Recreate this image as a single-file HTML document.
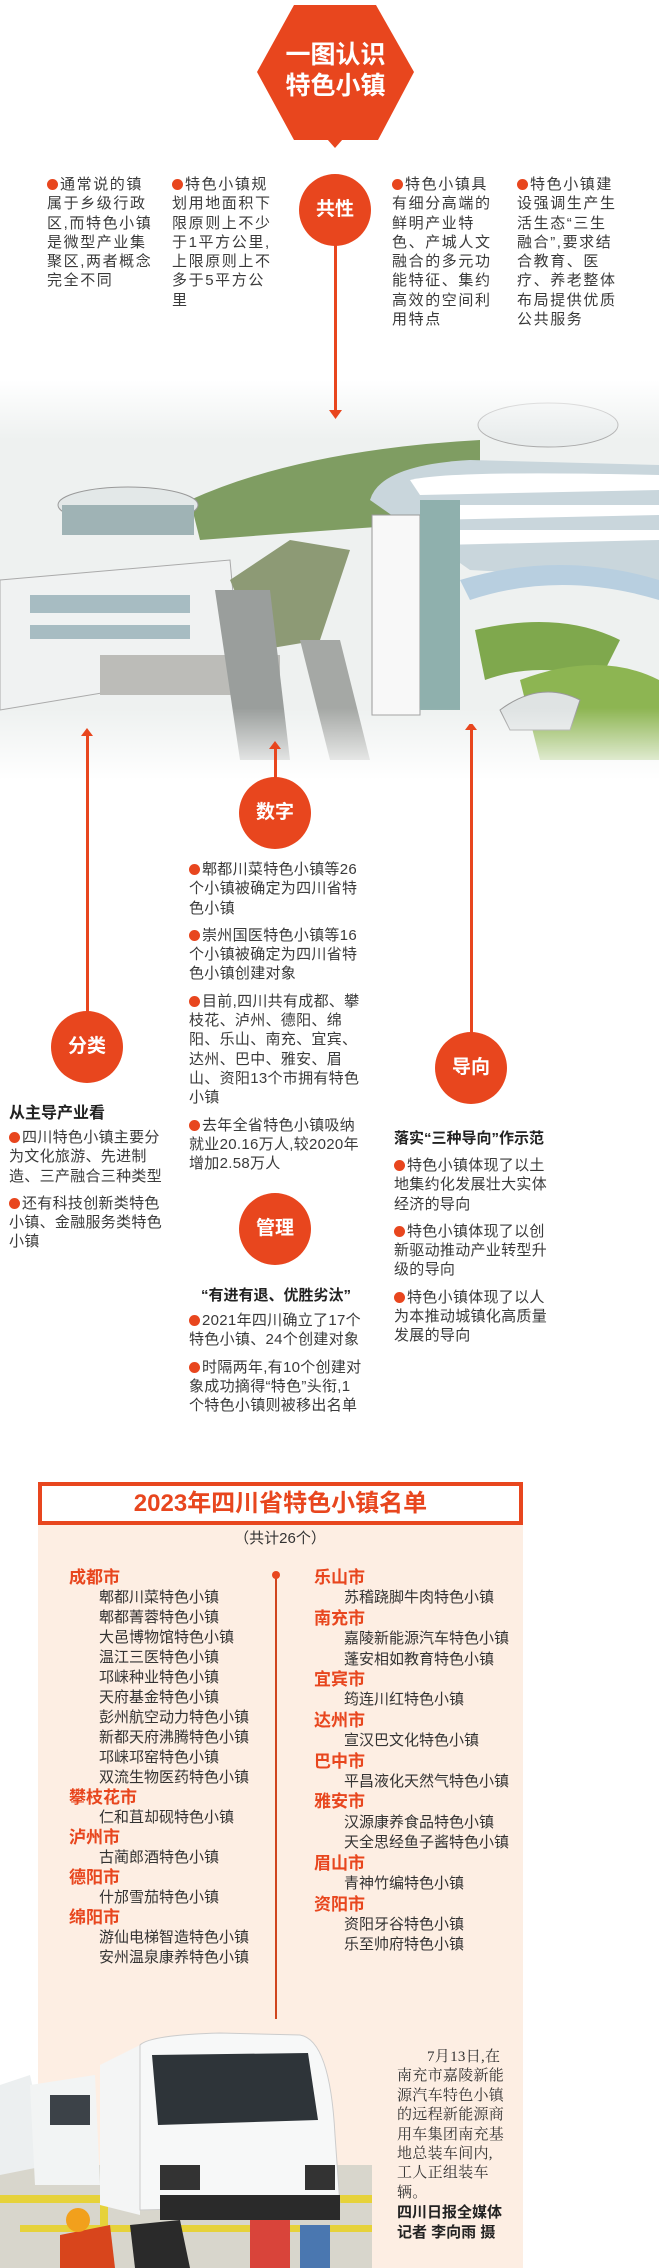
<!DOCTYPE html>
<html><head><meta charset="utf-8">
<style>
*{margin:0;padding:0;box-sizing:border-box}
body{width:659px;height:2268px;position:relative;background:#fff;font-family:"Liberation Sans","Noto Sans CJK SC",sans-serif;color:#333;overflow:hidden}
.a{position:absolute}
.t{position:absolute;font-size:15px;line-height:19.3px;letter-spacing:0.3px;color:#3a3a3a}
.t.w{letter-spacing:1.6px}
.t p{margin-bottom:8px}
.b{display:inline-block;width:11px;height:11px;border-radius:50%;background:#e8461e;margin-right:2px;vertical-align:-1px}
.c{position:absolute;width:72px;height:72px;border-radius:50%;background:#e8461e;color:#fff;font-size:19px;font-weight:bold;text-align:center;line-height:72px}
.v{position:absolute;width:3px;background:#e8461e}
.h{font-weight:bold;font-size:16px;color:#222}
.lst{position:absolute;font-size:15px;line-height:20px;color:#333}
.lst .ct{color:#e8461e;font-weight:bold;font-size:17px}
.lst .it{padding-left:30px}
</style></head><body>

<svg class="a" style="left:0;top:380px" width="659" height="400">
<defs>
<linearGradient id="fd" x1="0" y1="0" x2="0" y2="1">
<stop offset="0" stop-color="#fff" stop-opacity="1"/>
<stop offset="0.15" stop-color="#fff" stop-opacity="0"/>
<stop offset="0.82" stop-color="#fff" stop-opacity="0"/>
<stop offset="1" stop-color="#fff" stop-opacity="1"/>
</linearGradient>
</defs>
<rect width="659" height="400" fill="#eef1f0"/>
<path d="M190 120 Q300 70 480 60 L480 140 Q330 150 200 160Z" fill="#7f9d62"/>
<ellipse cx="128" cy="125" rx="70" ry="18" fill="#e3e8e8" stroke="#999"/>
<rect x="62" y="125" width="132" height="30" fill="#9fb3b5"/>
<ellipse cx="548" cy="45" rx="70" ry="22" fill="#e8ecec" stroke="#aaa"/>
<path d="M370 120 Q380 85 470 80 L659 85 L659 200 L470 190Z" fill="#c9d6dc"/>
<path d="M410 100 Q450 90 659 95 L659 110 L420 115Z" fill="#fff"/>
<path d="M430 125 L659 125 L659 135 L430 140Z" fill="#fff"/>
<path d="M440 150 L659 150 L659 160 L440 165Z" fill="#fff"/>
<rect x="372" y="135" width="48" height="200" fill="#f8f8f8" stroke="#999"/>
<rect x="420" y="120" width="40" height="210" fill="#8fb0ad"/>
<path d="M0 200 L230 180 L240 290 L0 330Z" fill="#f0f2f2" stroke="#aaa"/>
<rect x="30" y="215" width="160" height="18" fill="#a7bcc2"/>
<rect x="30" y="245" width="160" height="14" fill="#a7bcc2"/>
<rect x="100" y="275" width="180" height="40" fill="#bcbcb8"/>
<path d="M230 200 L290 160 L350 170 L320 260 L260 270Z" fill="#8d9a75"/>
<path d="M215 210 L240 380 L290 380 L270 210Z" fill="#9a9e9c"/>
<path d="M300 260 L330 380 L370 380 L340 260Z" fill="#a5a8a5"/>
<path d="M475 250 Q560 230 620 260 L600 300 Q540 280 485 300Z" fill="#7fa84d"/>
<path d="M520 300 Q600 270 659 300 L659 380 L540 380Z" fill="#8db552"/>
<path d="M460 200 Q560 170 659 200 L659 220 Q560 190 470 220Z" fill="#b8cfe0"/>
<path d="M500 330 Q540 300 580 320 L570 350 L510 350Z" fill="#dfe3e3" stroke="#999"/>
<rect width="659" height="400" fill="url(#fd)"/>
</svg>

<svg class="a" style="left:0;top:0" width="659" height="160">
<polygon points="294,5 376,5 414,72 378,140 294,140 257,72" fill="#e8461e"/>
<polygon points="327,139 343,139 335,148" fill="#e8461e"/>
</svg>
<div class="a" style="left:257px;top:40px;width:157px;text-align:center;color:#fff;font-weight:bold;font-size:25px;line-height:31px">一图认识<br>特色小镇</div>

<div class="v" style="left:334px;top:240px;height:177px"></div>
<svg class="a" style="left:329px;top:410px" width="13" height="10"><polygon points="0,0 13,0 6.5,9" fill="#e8461e"/></svg>
<div class="c" style="left:299px;top:174px">共性</div>
<div class="t w" style="left:47px;top:175px;width:106px"><span class="b"></span>通常说的镇属于乡级行政区,而特色小镇是微型产业集聚区,两者概念完全不同</div>
<div class="t w" style="left:172px;top:175px;width:106px"><span class="b"></span>特色小镇规划用地面积下限原则上不少于1平方公里,上限原则上不多于5平方公里</div>
<div class="t w" style="left:392px;top:175px;width:106px"><span class="b"></span>特色小镇具有细分高端的鲜明产业特色、产城人文融合的多元功能特征、集约高效的空间利用特点</div>
<div class="t w" style="left:517px;top:175px;width:106px"><span class="b"></span>特色小镇建设强调生产生活生态“三生融合”,要求结合教育、医疗、养老整体布局提供优质公共服务</div>

<div class="v" style="left:86px;top:735px;height:280px"></div>
<div class="v" style="left:274px;top:748px;height:30px"></div>
<div class="v" style="left:470px;top:726px;height:310px"></div>
<svg class="a" style="left:0;top:724px" width="659" height="30">
<polygon points="81,12 93,12 87,4" fill="#e8461e"/>
<polygon points="269,25 281,25 275,17" fill="#e8461e"/>
<polygon points="465,6 477,6 471,-2" fill="#e8461e"/>
</svg>

<div class="c" style="left:239px;top:777px">数字</div>
<div class="c" style="left:51px;top:1011px">分类</div>
<div class="c" style="left:435px;top:1032px">导向</div>
<div class="c" style="left:239px;top:1193px">管理</div>

<div class="t" style="left:189px;top:860px;width:176px"><p><span class="b"></span>郫都川菜特色小镇等26个小镇被确定为四川省特色小镇</p><p><span class="b"></span>崇州国医特色小镇等16个小镇被确定为四川省特色小镇创建对象</p><p><span class="b"></span>目前,四川共有成都、攀枝花、泸州、德阳、绵阳、乐山、南充、宜宾、达州、巴中、雅安、眉山、资阳13个市拥有特色小镇</p><p><span class="b"></span>去年全省特色小镇吸纳就业20.16万人,较2020年增加2.58万人</p></div>

<div class="a h" style="left:9px;top:1099px">从主导产业看</div>
<div class="t" style="left:9px;top:1128px;width:156px"><p><span class="b"></span>四川特色小镇主要分为文化旅游、先进制造、三产融合三种类型</p><p><span class="b"></span>还有科技创新类特色小镇、金融服务类特色小镇</p></div>

<div class="a h" style="left:394px;top:1127px;font-size:15px">落实“三种导向”作示范</div>
<div class="t" style="left:394px;top:1156px;width:158px"><p><span class="b"></span>特色小镇体现了以土地集约化发展壮大实体经济的导向</p><p><span class="b"></span>特色小镇体现了以创新驱动推动产业转型升级的导向</p><p><span class="b"></span>特色小镇体现了以人为本推动城镇化高质量发展的导向</p></div>

<div class="a h" style="left:190px;top:1284px;width:172px;text-align:center;font-size:15px">“有进有退、优胜劣汰”</div>
<div class="t" style="left:189px;top:1311px;width:176px"><p><span class="b"></span>2021年四川确立了17个特色小镇、24个创建对象</p><p><span class="b"></span>时隔两年,有10个创建对象成功摘得“特色”头衔,1个特色小镇则被移出名单</p></div>

<div class="a" style="left:38px;top:1482px;width:485px;height:786px;background:#fdeee3"></div>
<div class="a" style="left:38px;top:1482px;width:485px;height:43px;background:#fff;border:4px solid #e8461e;text-align:center;color:#e8461e;font-weight:bold;font-size:24px;line-height:35px">2023年四川省特色小镇名单</div>
<div class="a" style="left:180px;top:1527px;width:200px;text-align:center;font-size:15px;color:#333">（共计26个）</div>
<div class="v" style="left:275px;top:1575px;height:444px;width:2px;background:#d0451e"></div>
<div class="a" style="left:272px;top:1571px;width:8px;height:8px;border-radius:50%;background:#e8461e"></div>

<div class="lst" style="left:69px;top:1568px">
<div class="ct">成都市</div>
<div class="it">郫都川菜特色小镇</div><div class="it">郫都菁蓉特色小镇</div><div class="it">大邑博物馆特色小镇</div><div class="it">温江三医特色小镇</div><div class="it">邛崃种业特色小镇</div><div class="it">天府基金特色小镇</div><div class="it">彭州航空动力特色小镇</div><div class="it">新都天府沸腾特色小镇</div><div class="it">邛崃邛窑特色小镇</div><div class="it">双流生物医药特色小镇</div>
<div class="ct">攀枝花市</div><div class="it">仁和苴却砚特色小镇</div>
<div class="ct">泸州市</div><div class="it">古蔺郎酒特色小镇</div>
<div class="ct">德阳市</div><div class="it">什邡雪茄特色小镇</div>
<div class="ct">绵阳市</div><div class="it">游仙电梯智造特色小镇</div><div class="it">安州温泉康养特色小镇</div>
</div>

<div class="lst" style="left:314px;top:1568px;line-height:20.4px">
<div class="ct">乐山市</div><div class="it">苏稽跷脚牛肉特色小镇</div>
<div class="ct">南充市</div><div class="it">嘉陵新能源汽车特色小镇</div><div class="it">蓬安相如教育特色小镇</div>
<div class="ct">宜宾市</div><div class="it">筠连川红特色小镇</div>
<div class="ct">达州市</div><div class="it">宣汉巴文化特色小镇</div>
<div class="ct">巴中市</div><div class="it">平昌液化天然气特色小镇</div>
<div class="ct">雅安市</div><div class="it">汉源康养食品特色小镇</div><div class="it">天全思经鱼子酱特色小镇</div>
<div class="ct">眉山市</div><div class="it">青神竹编特色小镇</div>
<div class="ct">资阳市</div><div class="it">资阳牙谷特色小镇</div><div class="it">乐至帅府特色小镇</div>
</div>

<svg class="a" style="left:0;top:2015px" width="380" height="253">
<rect x="0" y="150" width="372" height="103" fill="#d8d6cc"/>
<rect x="0" y="180" width="372" height="8" fill="#e6d23a"/>
<rect x="20" y="210" width="352" height="7" fill="#e6d23a"/>
<rect x="100" y="180" width="8" height="73" fill="#e6d23a"/>
<rect x="250" y="200" width="40" height="53" fill="#d9443a"/>
<rect x="300" y="210" width="30" height="43" fill="#4a77b0"/>
<path d="M0 70 L30 60 L50 150 L0 160Z" fill="#eceff0"/>
<path d="M30 70 L95 60 L100 170 L35 170Z" fill="#f2f4f4"/>
<rect x="50" y="80" width="40" height="30" fill="#3c4248"/>
<path d="M100 50 L140 30 L140 200 L100 190Z" fill="#f4f5f5"/>
<path d="M140 30 Q150 20 220 18 L300 20 Q330 25 335 120 L340 190 L140 195Z" fill="#f7f8f8" stroke="#ccc"/>
<path d="M152 40 L308 38 L318 105 L158 110Z" fill="#2e3439"/>
<rect x="160" y="150" width="40" height="25" fill="#333"/>
<rect x="305" y="150" width="30" height="25" fill="#333"/>
<rect x="160" y="180" width="180" height="25" fill="#2a2a2a"/>
<path d="M60 220 L110 210 L115 253 L60 253Z" fill="#d8451c"/>
<circle cx="78" cy="205" r="12" fill="#f2a01c"/>
<path d="M130 210 L180 205 L190 253 L135 253Z" fill="#2a2a2a"/>
</svg>
<div class="a" style="left:397px;top:2048px;width:110px;font-family:'Liberation Serif','Noto Serif CJK SC',serif;font-size:15px;line-height:19.4px;letter-spacing:0.3px;color:#333;text-indent:2em">7月13日,在南充市嘉陵新能源汽车特色小镇的远程新能源商用车集团南充基地总装车间内,工人正组装车辆。</div>
<div class="a" style="left:397px;top:2203px;width:112px;font-size:15px;line-height:20px;font-weight:bold;color:#222">四川日报全媒体记者 李向雨 摄</div>

</body></html>
